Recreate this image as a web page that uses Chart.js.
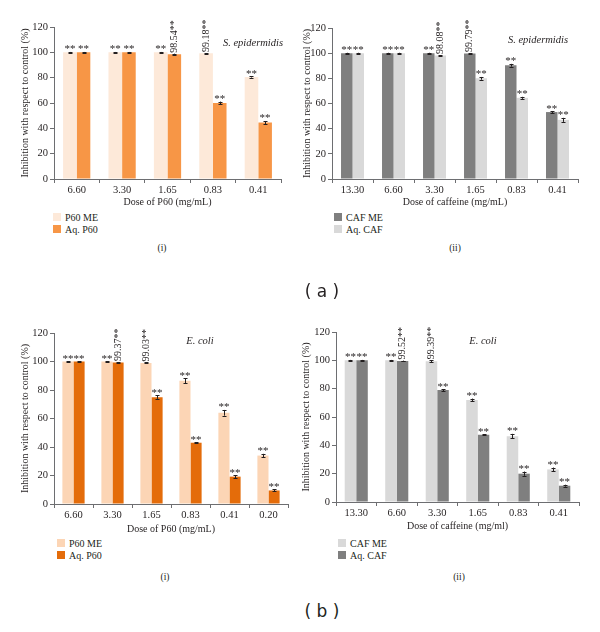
<!DOCTYPE html>
<html>
<head>
<meta charset="utf-8">
<script src="https://cdn.jsdelivr.net/npm/chart.js@4.4.0/dist/chart.umd.min.js"></script>
<style>
	html, body { margin: 0; padding: 0; background: #fff; }
	#figure { position: relative; width: 600px; height: 632px; font-family: 'Liberation Serif', 'DejaVu Serif', serif; color: #231f20; }
	.panel { position: absolute; }
	.panel canvas { display: block; }
	.species { position: absolute; font-style: italic; font-size: 10.5px; transform: translate( -50%, -50% ); white-space: nowrap; }
	.legend { position: absolute; font-size: 10px; }
	.legend-item { display: flex; align-items: center; height: 12px; white-space: nowrap; }
	.legend-box { width: 8px; height: 8px; margin-right: 4px; }
	.sub { position: absolute; font-size: 9.5px; transform: translate( -50%, -50% ); }
	.part { position: absolute; font-family: 'DejaVu Sans', sans-serif; font-size: 17px; transform: translate( -50%, -50% ); white-space: pre; }
</style>
</head>
<body>
<div id="figure">
	<div class="panel" id="panel-a1"><canvas id="chart-a1"></canvas></div>
	<div class="panel" id="panel-a2"><canvas id="chart-a2"></canvas></div>
	<div class="panel" id="panel-b1"><canvas id="chart-b1"></canvas></div>
	<div class="panel" id="panel-b2"><canvas id="chart-b2"></canvas></div>
</div>
<script>
	// (a) S. epidermidis - P60
	var dosesP60A = [ '6.60', '3.30', '1.65', '0.83', '0.41' ];
	var p60MeA = [ 100, 100, 100, 99.18, 80.6 ];
	var p60MeErrA = [ 0.3, 0.3, 0.3, 0.3, 0.5 ];
	var p60MeNotesA = [ '**', '**', '**', '99.18**', '**' ];
	var aqP60A = [ 100, 100, 98.54, 60, 44.6 ];
	var aqP60ErrA = [ 0.3, 0.3, 0.4, 1.1, 1.2 ];
	var aqP60NotesA = [ '**', '**', '98.54**', '**', '**' ];

	// (a) S. epidermidis - caffeine
	var dosesCafA = [ '13.30', '6.60', '3.30', '1.65', '0.83', '0.41' ];
	var cafMeA = [ 100, 100, 100, 99.79, 90.4, 53.2 ];
	var cafMeErrA = [ 0.3, 0.3, 0.3, 0.3, 1.1, 0.8 ];
	var cafMeNotesA = [ '**', '**', '**', '99.79**', '**', '**' ];
	var aqCafA = [ 100, 100, 98.08, 80, 64.5, 47 ];
	var aqCafErrA = [ 0.3, 0.3, 0.4, 1.1, 0.8, 1.6 ];
	var aqCafNotesA = [ '**', '**', '98.08**', '**', '**', '**' ];

	// (b) E. coli - P60
	var dosesP60B = [ '6.60', '3.30', '1.65', '0.83', '0.41', '0.20' ];
	var p60MeB = [ 100, 100, 99.03, 86.5, 64, 34 ];
	var p60MeErrB = [ 0.3, 0.3, 0.3, 1.8, 2, 1.2 ];
	var p60MeNotesB = [ '**', '**', '99.03**', '**', '**', '**' ];
	var aqP60B = [ 100, 99.37, 75, 43, 19.2, 9.5 ];
	var aqP60ErrB = [ 0.3, 0.3, 1.2, 0.5, 1, 0.7 ];
	var aqP60NotesB = [ '**', '99.37**', '**', '**', '**', '**' ];

	// (b) E. coli - caffeine
	var dosesCafB = [ '13.30', '6.60', '3.30', '1.65', '0.83', '0.41' ];
	var cafMeB = [ 100, 100, 99.39, 72, 46.5, 23 ];
	var cafMeErrB = [ 0.3, 0.3, 0.6, 1, 1.6, 1.3 ];
	var cafMeNotesB = [ '**', '**', '99.39**', '**', '**', '**' ];
	var aqCafB = [ 100, 99.52, 79, 47.5, 20, 11.5 ];
	var aqCafErrB = [ 0.3, 0.3, 0.7, 0.4, 1.5, 0.7 ];
	var aqCafNotesB = [ '**', '99.52**', '**', '**', '**', '**' ];

	var yTicks = [ 0, 20, 40, 60, 80, 100, 120 ];

	var serif = "'Liberation Serif', 'DejaVu Serif', serif";
	var ink = '#231f20';
	var axisColor = '#6d6e71';

	/**
	 * Draw error bars and significance notes on top of the bars.
	 */
	var barNotes = {
		id: 'barNotes',
		afterDatasetsDraw: function( chart ) {
			var ctx = chart.ctx;
			var y = chart.scales.y;

			chart.data.datasets.forEach( function( dataset, i ) {
				var meta = chart.getDatasetMeta( i );

				meta.data.forEach( function( bar, j ) {
					var value = dataset.data[j];
					var err = dataset.errors[j];
					var x = Math.round( bar.x ) + 0.5;
					var top = y.getPixelForValue( value + err );
					var bottom = y.getPixelForValue( value - err );

					ctx.save();
					ctx.strokeStyle = ink;
					ctx.lineWidth = 1;
					ctx.beginPath();
					ctx.moveTo( x, top );
					ctx.lineTo( x, bottom );
					ctx.moveTo( x - 2, Math.round( top ) + 0.5 );
					ctx.lineTo( x + 2, Math.round( top ) + 0.5 );
					ctx.moveTo( x - 2, Math.round( bottom ) + 0.5 );
					ctx.lineTo( x + 2, Math.round( bottom ) + 0.5 );
					ctx.stroke();

					var note = dataset.notes[j];
					ctx.fillStyle = ink;

					// plain stars or rotated value?
					if ( note === '**' ) {
						ctx.font = '11px ' + serif;
						ctx.textAlign = 'center';
						ctx.textBaseline = 'alphabetic';
						ctx.fillText( note, bar.x, top + 0.5 );
					} else {
						ctx.font = '10px ' + serif;
						ctx.translate( bar.x, top - 1 );
						ctx.rotate( -Math.PI / 2 );
						ctx.textAlign = 'left';
						ctx.textBaseline = 'middle';
						ctx.fillText( note, 0, 0 );
					}
					ctx.restore();
				} );
			} );
		}
	};

	var panels = [
		{
			id: 'a1', left: 0, top: 0, width: 300, height: 208,
			padding: { left: 19, right: 19, top: 27, bottom: 0 }, yWidth: 35, xHeight: 29,
			categoryPercentage: 0.6,
			labels: dosesP60A, xTitle: 'Dose of P60 (mg/mL)',
			species: { text: 'S. epidermidis', x: 253, y: 42 },
			legend: { x: 53, y: 211 },
			sets: [
				{ label: 'P60 ME', data: p60MeA, errors: p60MeErrA, notes: p60MeNotesA, color: '#fde9d9' },
				{ label: 'Aq. P60', data: aqP60A, errors: aqP60ErrA, notes: aqP60NotesA, color: '#f79646' }
			]
		},
		{
			id: 'a2', left: 300, top: 0, width: 300, height: 208,
			padding: { left: 1, right: 22, top: 28, bottom: 0 }, yWidth: 31, xHeight: 29,
			categoryPercentage: 0.56,
			labels: dosesCafA, xTitle: 'Dose of caffeine (mg/mL)',
			species: { text: 'S. epidermidis', x: 538, y: 39 },
			legend: { x: 334, y: 211 },
			sets: [
				{ label: 'CAF ME', data: cafMeA, errors: cafMeErrA, notes: cafMeNotesA, color: '#7f7f7f' },
				{ label: 'Aq. CAF', data: aqCafA, errors: aqCafErrA, notes: aqCafNotesA, color: '#d9d9d9' }
			]
		},
		{
			id: 'b1', left: 0, top: 300, width: 300, height: 235,
			padding: { left: 19, right: 12, top: 33, bottom: 0 }, yWidth: 35, xHeight: 31,
			categoryPercentage: 0.57,
			labels: dosesP60B, xTitle: 'Dose of P60 (mg/mL)',
			species: { text: 'E. coli', x: 200, y: 340 },
			legend: { x: 57, y: 537 },
			sets: [
				{ label: 'P60 ME', data: p60MeB, errors: p60MeErrB, notes: p60MeNotesB, color: '#fcd5b5' },
				{ label: 'Aq. P60', data: aqP60B, errors: aqP60ErrB, notes: aqP60NotesB, color: '#e46c0a' }
			]
		},
		{
			id: 'b2', left: 300, top: 300, width: 300, height: 232,
			padding: { left: 0, right: 21, top: 32, bottom: 0 }, yWidth: 36, xHeight: 30,
			categoryPercentage: 0.57,
			labels: dosesCafB, xTitle: 'Dose of caffeine (mg/ml)',
			species: { text: 'E. coli', x: 483, y: 340 },
			legend: { x: 338, y: 537 },
			sets: [
				{ label: 'CAF ME', data: cafMeB, errors: cafMeErrB, notes: cafMeNotesB, color: '#d9d9d9' },
				{ label: 'Aq. CAF', data: aqCafB, errors: aqCafErrB, notes: aqCafNotesB, color: '#7f7f7f' }
			]
		}
	];

	var captions = [
		{ cls: 'sub', text: '(i)', x: 162, y: 248 },
		{ cls: 'sub', text: '(ii)', x: 455, y: 248 },
		{ cls: 'part', text: '( a )', x: 322, y: 291 },
		{ cls: 'sub', text: '(i)', x: 165, y: 577 },
		{ cls: 'sub', text: '(ii)', x: 459, y: 577 },
		{ cls: 'part', text: '( b )', x: 322, y: 611 }
	];

	var figure = document.getElementById( 'figure' );

	/**
	 * Add a positioned text element to the figure.
	 */
	function addText( cls, text, x, y ) {
		var el = document.createElement( 'div' );

		el.className = cls;
		el.textContent = text;
		el.style.left = x + 'px';
		el.style.top = y + 'px';
		figure.appendChild( el );

		return el;
	}

	/**
	 * Build a stacked legend from chart datasets.
	 */
	function buildLegend( chart, pos ) {
		var box = document.createElement( 'div' );

		box.className = 'legend';
		box.style.left = pos.x + 'px';
		box.style.top = pos.y + 'px';

		chart.data.datasets.forEach( function( dataset ) {
			var item = document.createElement( 'div' );
			var swatch = document.createElement( 'span' );
			var label = document.createElement( 'span' );

			item.className = 'legend-item';
			swatch.className = 'legend-box';
			swatch.style.background = dataset.backgroundColor;
			label.textContent = dataset.label;

			item.appendChild( swatch );
			item.appendChild( label );
			box.appendChild( item );
		} );

		figure.appendChild( box );
	}

	panels.forEach( function( p ) {
		var wrap = document.getElementById( 'panel-' + p.id );

		wrap.style.left = p.left + 'px';
		wrap.style.top = p.top + 'px';
		wrap.style.width = p.width + 'px';
		wrap.style.height = p.height + 'px';

		var datasets = p.sets.map( function( s ) {
			return {
				label: s.label,
				data: s.data,
				errors: s.errors,
				notes: s.notes,
				backgroundColor: s.color,
				borderWidth: 0,
				barPercentage: 1,
				categoryPercentage: p.categoryPercentage
			};
		} );

		var config = {
			type: 'bar',
			data: { labels: p.labels, datasets: datasets },
			plugins: [ barNotes ],
			options: {
				responsive: false,
				animation: false,
				devicePixelRatio: 1,
				layout: { padding: p.padding },
				plugins: {
					legend: { display: false },
					tooltip: { enabled: false }
				},
				scales: {
					x: {
						afterFit: function( scale ) {
							scale.height = p.xHeight;
						},
						grid: { drawOnChartArea: false, drawTicks: true, tickLength: 4, color: axisColor, offset: true },
						border: { color: axisColor },
						ticks: { color: ink, padding: 1, font: { family: serif, size: 10.5 } },
						title: {
							display: true,
							text: p.xTitle,
							color: ink,
							padding: 0,
							font: { family: serif, size: 10 }
						}
					},
					y: {
						min: 0,
						max: 120,
						afterFit: function( scale ) {
							scale.width = p.yWidth;
						},
						afterBuildTicks: function( scale ) {
							scale.ticks = yTicks.map( function( v ) {
								return { value: v };
							} );
						},
						grid: { drawOnChartArea: false, drawTicks: true, tickLength: 4, color: axisColor },
						border: { color: axisColor },
						ticks: { color: ink, padding: 2, font: { family: serif, size: 10.5 } },
						title: {
							display: true,
							text: 'Inhibition with respect to control (%)',
							color: ink,
							padding: 0,
							font: { family: serif, size: 10 }
						}
					}
				}
			}
		};

		var canvas = document.getElementById( 'chart-' + p.id );
		canvas.width = p.width;
		canvas.height = p.height;

		var chart = new Chart( canvas.getContext( '2d' ), config );

		addText( 'species', p.species.text, p.species.x, p.species.y );
		buildLegend( chart, p.legend );
	} );

	captions.forEach( function( c ) {
		addText( c.cls, c.text, c.x, c.y );
	} );
</script>
</body>
</html>
